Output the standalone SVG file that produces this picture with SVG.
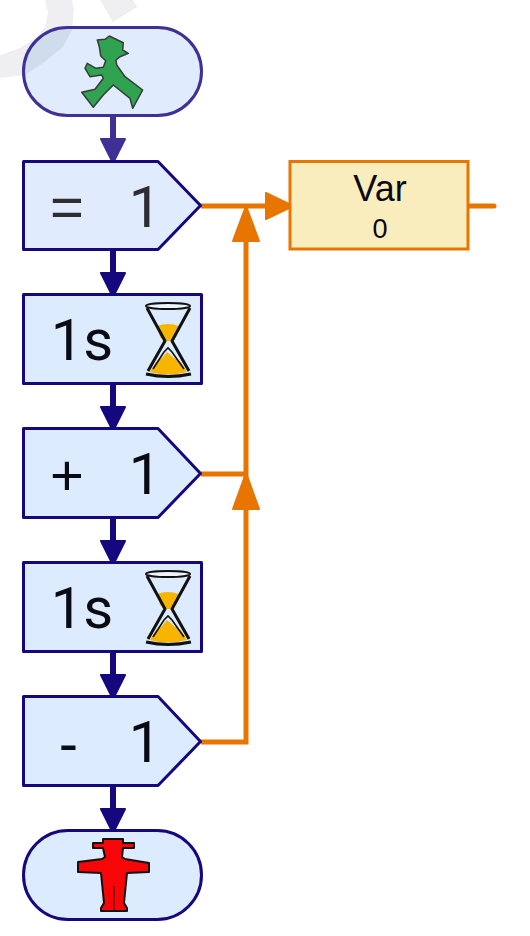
<svg xmlns="http://www.w3.org/2000/svg" width="530" height="936" viewBox="0 0 530 936">
<style>
text{font-family:"Liberation Sans",Arial,sans-serif;fill:#0a0a14;text-anchor:middle}
.big{font-size:58px}
.num{font-family:Roboto,"Liberation Sans",sans-serif;font-size:58px;font-weight:400}
.shape{fill:#dcebfd;stroke:#15087f;stroke-width:3;stroke-linejoin:round}
.flow{fill:none;stroke:#15087f;stroke-width:6}
.head{fill:#15087f;stroke:#15087f;stroke-width:2;stroke-linejoin:round}
.wire{fill:none;stroke:#e87500;stroke-width:5}
.ohead{fill:#e87500;stroke:#e87500;stroke-width:2;stroke-linejoin:round}
.wm{fill:#efeff1}
.glass{fill:none;stroke:#111;stroke-width:3;stroke-linejoin:round}
.sand{fill:#f8b500}
</style>
<defs>
<clipPath id="pill"><rect x="23.500" y="27.500" width="178" height="88" rx="44"/></clipPath>
<g id="hourglass">
<path class="sand" d="M157 326Q168 322 179 326L176 337L170 341H165L160 337Z"/>
<path class="sand" d="M150 372L156 362L162 358L167 352L174 358L181 362L187 372Q168 377 150 372Z"/>
<ellipse cx="168" cy="306" rx="22" ry="3" fill="#eef3fa" stroke="#111" stroke-width="2"/>
<path class="glass" d="M147 308L165 341L148 371M190 308L172 341L189 371"/>
<path fill="none" stroke="#111" stroke-width="1.600" d="M153 369L164 352L168 348L172 352L184 369"/>
<path class="glass" d="M146 374Q168 379 191 374"/>
</g>
</defs>
<g id="watermark">
<path class="wm" d="M100 0L113 22L137 7L133 0Z"/>
<path class="wm" d="M45 0L48 13L45 27L37 37L20 48L0 55V78L25 75L43 63L63 47L72 30L74 10L72 0Z"/>
</g>
<g id="connectors">
<path class="flow" d="M113 116V140" style="stroke:#3f3096"/>
<path class="head" d="M101 139H125L113 163Z" style="fill:#3f3096;stroke:#3f3096"/>
<path class="flow" d="M113 250V274"/>
<path class="head" d="M101 273H125L113 297Z"/>
<path class="flow" d="M113 384V408"/>
<path class="head" d="M101 407H125L113 431Z"/>
<path class="flow" d="M113 518V542"/>
<path class="head" d="M101 541H125L113 565Z"/>
<path class="flow" d="M113 652V676"/>
<path class="head" d="M101 675H125L113 699Z"/>
<path class="flow" d="M113 786V810"/>
<path class="head" d="M101 809H125L113 833Z"/>
<path class="wire" d="M201 206H270"/>
<path class="ohead" d="M266 193V219L293 206Z"/>
<path class="wire" d="M201 474H246M201 742H246V235"/>
<path class="ohead" d="M233 241H259L246 206Z"/>
<path class="ohead" d="M233 509H259L246 473Z"/>
<path class="wire" d="M468 206H494" stroke-linecap="round"/>
</g>
<g id="start">
<rect x="23.500" y="27.500" width="178" height="88" rx="44" fill="#e0ecfd"/>
<path clip-path="url(#pill)" fill="#cfdcec" d="M45 0L48 13L45 27L37 37L20 48L0 55V78L25 75L43 63L63 47L72 30L74 10L72 0Z"/>
<rect x="23.500" y="27.500" width="178" height="88" rx="44" fill="none" stroke="#3f3096" stroke-width="3"/>
<path fill="#2fa350" stroke="#3a3a3a" stroke-width="1.500" stroke-linejoin="round" d="M109.300 36L123.300 42.700L122.700 50L128.300 53.300L120 56.700L116 60L116.700 65L125 76.700L142.700 90L132.700 108.300L130 98.300L113.300 85L103.300 95L93.300 107.300L81.700 92.300L95 89.300L103.300 78.300L101.700 75L90 76.700L85 68.300L87.300 63.300L96 68.300L103.300 67.300L105.700 60.700L100.700 56L99.300 46.700L97.300 40L105 39.300Z"/>
</g>
<g id="set">
<path class="shape" d="M23.500 161.500H158L200.500 205.500L158 249.500H23.500Z" style="fill:#e0ecfd"/>
<text class="big" x="67" y="227" style="fill:#2d2d33">=</text><text class="num" x="145" y="227" style="fill:#2d2d33">1</text>
</g>
<g id="wait1">
<rect class="shape" x="23.500" y="294.500" width="178" height="89"/>
<text class="num" x="82" y="360">1s</text>
<use href="#hourglass"/>
</g>
<g id="add">
<path class="shape" d="M23.500 428.500H158L200.500 473.500L158 517.500H23.500Z"/>
<text class="big" x="67" y="495">+</text><text class="num" x="145" y="494">1</text>
</g>
<g id="wait2">
<rect class="shape" x="23.500" y="562.500" width="178" height="89"/>
<text class="num" x="82" y="628">1s</text>
<use href="#hourglass" y="268"/>
</g>
<g id="sub">
<path class="shape" d="M23.500 696.500H158L200.500 741.500L158 785.500H23.500Z"/>
<text class="big" x="68.500" y="763">-</text><text class="num" x="145" y="762">1</text>
</g>
<g id="stop">
<rect class="shape" x="23.500" y="830.500" width="178" height="89" rx="44.500"/>
<path fill="#f60606" stroke="#111" stroke-width="2" stroke-linejoin="round" d="M103 839H123V843H134V848H123L122 857L125 859L149 863V872L127 873L124 903L127 908V911H101V908L104 903L101 873L78 872V862L102 859L105 857L103 848H93V843H103Z"/>
<path stroke="#7a0606" stroke-width="1.500" d="M114 886V910"/>
</g>
<g id="var">
<rect x="290" y="161.500" width="178" height="87.500" fill="#faedbd" stroke="#e87500" stroke-width="3"/>
<text x="380" y="201" font-size="36">Var</text>
<text x="380" y="238" font-size="27">0</text>
</g>
</svg>
